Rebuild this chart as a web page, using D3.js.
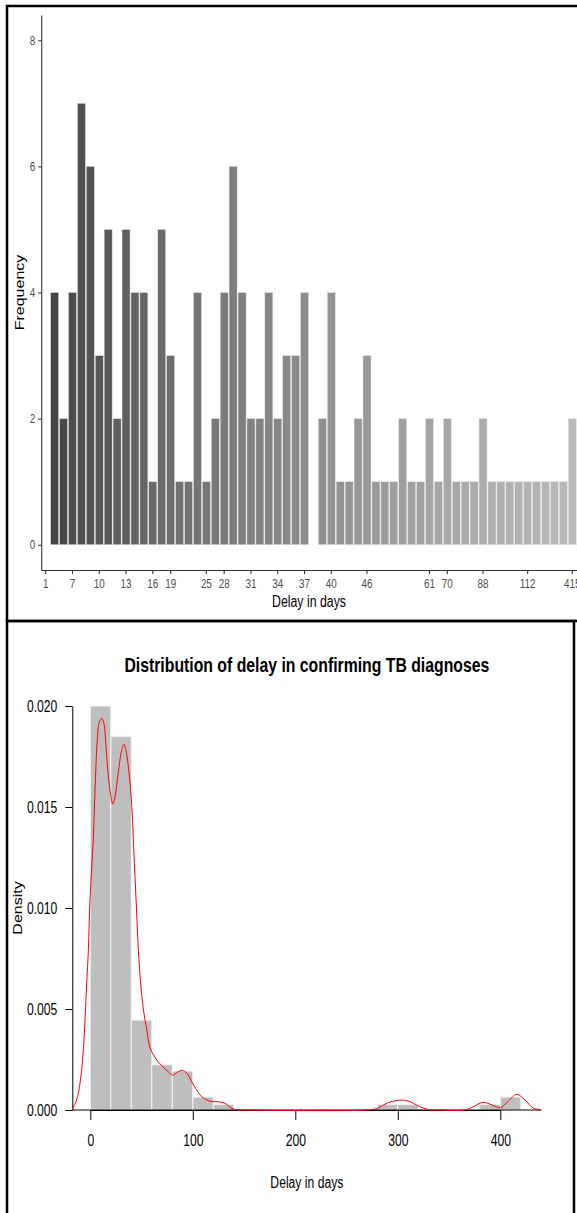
<!DOCTYPE html>
<html>
<head>
<meta charset="utf-8">
<script src="https://cdn.jsdelivr.net/npm/d3@7"></script>
<style>
  html, body { margin: 0; padding: 0; background: #fff; }
  svg { display: block; font-family: "Liberation Sans", Arial, sans-serif; }
</style>
</head>
<body>
<svg id="chart" width="577" height="1213"></svg>
<script>
// Top panel: frequency of each delay value (one slot per factor level)
const counts = [0, 4, 2, 4, 7, 6, 3, 5, 2, 5, 4,
  4, 1, 5, 3, 1, 1, 4, 1, 2, 4,
  6, 4, 2, 2, 4, 2, 3, 3, 4,
  0,
  2, 4, 1, 1, 2, 3, 1, 1, 1, 2,
  1, 1, 2, 1, 2, 1, 1, 1, 2,
  1, 1, 1, 1, 1, 1, 1, 1, 1,
  2];
const categories = counts.map((d, i) => i);
const tickSlots = [0, 3, 6, 9, 12, 14, 18, 20, 23, 26, 29, 32, 36, 43, 45, 49, 54, 59];
const tickLabels = ["1", "7", "10", "13", "16", "19", "25", "28", "31", "34", "37", "40", "46", "61", "70", "88", "112", "415"];
const freqTicks = [0, 2, 4, 6, 8];

// Bottom panel: histogram (bin width 20) and density curve
const binStarts = [0, 20, 40, 60, 80, 100, 120, 140, 160, 180, 200, 220, 240, 260, 280, 300, 320, 340, 360, 380, 400];
const binDensity = [0.0200, 0.0185, 0.00445, 0.00224, 0.00193, 0.00064, 0.00028, 0, 0, 0, 0, 0, 0, 0,
  0.00028, 0.00028, 0, 0, 0, 0.00028, 0.00064];
const densX = [-17.5, -13.3, -10, -6.8, -3.5, -1.9, -0.3, 2.9, 4.6, 6.8, 8.8, 11.1, 13.4, 15.3, 17.6, 19.9,
  21.9, 24.1, 27.3, 30.6, 32.9, 34.8, 37.1, 39.4, 41, 43, 45.2, 46.9, 49.1, 51.7, 55, 58.2, 63.1, 69.6,
  76.1, 80, 85.9, 90.7, 95.6, 98.9, 103.8, 108.7, 113.6, 118.4, 124.9, 131.4, 137.9, 143, 150,
  270, 280, 290, 300, 310, 320, 330, 340, 365, 372, 383, 392, 400, 408, 416, 424, 432, 440];
const densY = [0.00005, 0.0005, 0.00134, 0.00297, 0.0063, 0.0079, 0.0104, 0.0134, 0.0158, 0.0183, 0.0192, 0.0194,
  0.0191, 0.0180, 0.0165, 0.0156, 0.01515, 0.0155, 0.0167, 0.0178, 0.0181, 0.0178, 0.0170, 0.0158, 0.0145,
  0.0122, 0.0098, 0.0079, 0.0063, 0.0050, 0.0040, 0.0031, 0.0026, 0.0022, 0.0019, 0.00173, 0.0019, 0.00195,
  0.00173, 0.0014, 0.00099, 0.00066, 0.0005, 0.00041, 0.00041, 0.00033, 0.00008, 0.00001, 0,
  0, 0.00008, 0.00035, 0.00048, 0.00045, 0.0002, 0.00002, 0, 0, 0.00012, 0.00038, 0.00025, 0.00011,
  0.00045, 0.00078, 0.0005, 0.0001, 0.00001];
const densTicks = [0, 0.005, 0.010, 0.015, 0.020];
const delayTicks = [0, 100, 200, 300, 400];

const svg = d3.select('#chart');

// squeeze text horizontally (the source picture is narrower than it is tall)
function squeeze(sel, sx) {
  sel.each(function () {
    let t = d3.select(this);
    let x = +(t.attr('x') || 0);
    t.attr('x', x / sx).attr('transform', 'scale(' + sx + ',1)');
  });
}

// ---------- top panel ----------
const sxTop = 0.77;
const greyStart = 0.25, greyEnd = 0.73;
const grey = (i) => {
  let t = i / (categories.length - 1);
  let g = Math.pow(Math.pow(greyStart, 2.2) + t * (Math.pow(greyEnd, 2.2) - Math.pow(greyStart, 2.2)), 1 / 2.2);
  let v = Math.round(g * 255);
  return d3.rgb(v, v, v).formatHex();
};

const xTop = d3.scaleBand().domain(categories).range([41.24, 576.74]).paddingInner(0.1).paddingOuter(0.05);
const yTop = d3.scaleLinear().domain([-0.4, 8.4]).range([570, 15]);

svg.append('g')
  .selectAll('rect')
  .data(categories.filter(i => counts[i] > 0))
  .join('rect')
    .attr('x', i => xTop(i))
    .attr('width', xTop.bandwidth())
    .attr('y', i => yTop(counts[i]))
    .attr('height', i => yTop(0) - yTop(counts[i]))
    .attr('fill', i => grey(i))
    .attr('stroke', '#e6e6e6')
    .attr('stroke-width', 0.5);

const gxTop = svg.append('g')
  .attr('transform', 'translate(0,570)')
  .call(d3.axisBottom(xTop).tickValues(tickSlots)
    .tickFormat(d => tickLabels[tickSlots.indexOf(d)])
    .tickSize(4).tickSizeOuter(0).tickPadding(5));

const gyTop = svg.append('g')
  .attr('transform', 'translate(41.24,0)')
  .call(d3.axisLeft(yTop).tickValues(freqTicks).tickSize(3).tickSizeOuter(0).tickPadding(3));

[gxTop, gyTop].forEach(g => {
  g.select('.domain').attr('stroke', '#333').attr('stroke-width', 1.1);
  g.selectAll('.tick line').attr('stroke', '#333').attr('stroke-width', 1.1);
  g.selectAll('.tick text').attr('fill', '#4d4d4d').style('font-size', '12.8px').style('font-family', '"Liberation Sans", Arial, sans-serif');
  squeeze(g.selectAll('.tick text'), sxTop);
});

svg.append('text')
  .attr('transform', 'translate(' + ((xTop.range()[0] + xTop.range()[1]) / 2) + ',606.5) scale(' + sxTop + ',1)')
  .attr('text-anchor', 'middle')
  .style('font-size', '16px')
  .attr('fill', '#000')
  .text('Delay in days');

svg.append('text')
  .attr('transform', 'translate(24,' + yTop(4) + ') scale(' + sxTop + ',1) rotate(-90)')
  .attr('text-anchor', 'middle')
  .style('font-size', '16px')
  .attr('fill', '#000')
  .text('Frequency');

// ---------- bottom panel ----------
const sxBot = 0.76;
const xBot = d3.scaleLinear().domain([0, 400]).range([90.3, 500.3]);
const yBot = d3.scaleLinear().domain([0, 0.02]).range([1110, 706]);
const binWidth = binStarts[1] - binStarts[0];

svg.append('g')
  .selectAll('rect')
  .data(binStarts.map((s, i) => ({s: s, d: binDensity[i]})).filter(b => b.d > 0))
  .join('rect')
    .attr('x', b => xBot(b.s))
    .attr('width', b => xBot(b.s + binWidth) - xBot(b.s))
    .attr('y', b => yBot(b.d))
    .attr('height', b => yBot(0) - yBot(b.d))
    .attr('fill', '#bebebe')
    .attr('stroke', '#f4f4f4')
    .attr('stroke-width', 1);

const densExt = d3.extent(densX);
svg.append('line')
  .attr('x1', xBot(densExt[0])).attr('x2', xBot(densExt[1]))
  .attr('y1', yBot(0)).attr('y2', yBot(0))
  .attr('stroke', '#000').attr('stroke-width', 1);

const gxBot = svg.append('g')
  .attr('transform', 'translate(0,' + yBot(0) + ')')
  .call(d3.axisBottom(xBot).tickValues(delayTicks).tickFormat(d3.format('d'))
    .tickSize(10).tickSizeOuter(0).tickPadding(15));

const gyBot = svg.append('g')
  .attr('transform', 'translate(72.3,0)')
  .call(d3.axisLeft(yBot).tickValues(densTicks).tickFormat(d3.format('.3f'))
    .tickSize(7).tickSizeOuter(0).tickPadding(8));

[gxBot, gyBot].forEach(g => {
  g.select('.domain').attr('stroke', '#000');
  g.selectAll('.tick line').attr('stroke', '#000');
  g.selectAll('.tick text').attr('fill', '#000').style('font-size', '16px').style('font-family', '"Liberation Sans", Arial, sans-serif');
  squeeze(g.selectAll('.tick text'), sxBot);
});

const line = d3.line()
  .x((d, i) => xBot(densX[i]))
  .y(d => yBot(d))
  .curve(d3.curveCatmullRom);

svg.append('path')
  .datum(densY)
  .attr('d', line)
  .attr('fill', 'none')
  .attr('stroke', '#ff0000')
  .attr('stroke-width', 1);

const midX = xBot((densExt[0] + densExt[1]) / 2);

svg.append('text')
  .attr('transform', 'translate(' + midX + ',671.5) scale(0.81,1)')
  .attr('text-anchor', 'middle')
  .style('font-size', '19.5px')
  .style('font-weight', 'bold')
  .attr('fill', '#000')
  .text('Distribution of delay in confirming TB diagnoses');

svg.append('text')
  .attr('transform', 'translate(' + midX + ',1188) scale(' + sxBot + ',1)')
  .attr('text-anchor', 'middle')
  .style('font-size', '16px')
  .attr('fill', '#000')
  .text('Delay in days');

svg.append('text')
  .attr('transform', 'translate(21.5,' + yBot(0.01) + ') scale(' + sxBot + ',1) rotate(-90)')
  .attr('text-anchor', 'middle')
  .style('font-size', '16px')
  .attr('fill', '#000')
  .text('Density');

// panel frames
svg.append('rect')
  .attr('x', 7).attr('y', 6).attr('width', 585).attr('height', 615)
  .attr('fill', 'none').attr('stroke', '#000').attr('stroke-width', 2.5);
svg.append('rect')
  .attr('x', 7).attr('y', 621).attr('width', 567).attr('height', 600)
  .attr('fill', 'none').attr('stroke', '#000').attr('stroke-width', 2.5);
</script>
</body>
</html>
